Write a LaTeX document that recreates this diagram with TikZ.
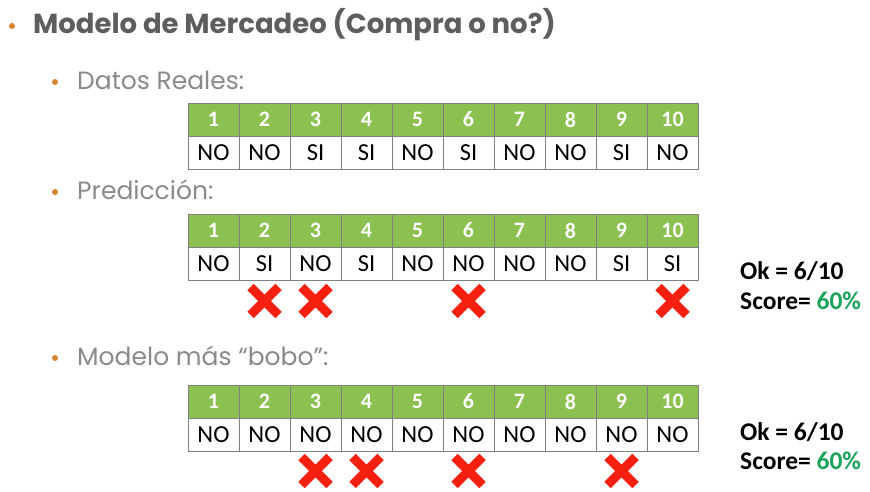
\documentclass[tikz,border=0pt]{standalone}
\usepackage{fontspec}
\setmainfont{Poppins}
\newfontfamily\cellfont{Carlito}
\usetikzlibrary{positioning, shapes.misc}

\definecolor{hdrgreen}{HTML}{8CC152}
\definecolor{gridgray}{HTML}{808080}
\definecolor{titlegray}{HTML}{5E5E5E}
\definecolor{subgray}{HTML}{8A8A8A}
\definecolor{bulletorange}{HTML}{D8862E}
\definecolor{xred}{HTML}{F5200F}
\definecolor{scoregreen}{HTML}{1AA35A}

\begin{document}
\begin{tikzpicture}[x=1pt, y=-1pt, node distance=0pt]

% Styles
\tikzstyle{hdr} = [rectangle, minimum width=51pt, minimum height=33pt, inner sep=0pt, outer sep=0pt, draw=gridgray, fill=hdrgreen, text=white, font=\cellfont\bfseries\fontsize{22}{22}\selectfont]
\tikzstyle{val} = [rectangle, minimum width=51pt, minimum height=33pt, inner sep=0pt, outer sep=0pt, draw=gridgray, fill=white, font=\cellfont\fontsize{24.5}{24.5}\selectfont]
\tikzstyle{wrong} = [cross out, draw=xred, line width=9pt, minimum size=19pt, inner sep=0pt]
\tikzstyle{dot} = [circle, fill=bulletorange, minimum size=6pt, inner sep=0pt]
\tikzstyle{heading} = [anchor=west, inner sep=0pt, text=titlegray, font=\bfseries\fontsize{27.5}{27.5}\selectfont]
\tikzstyle{sub} = [anchor=west, inner sep=0pt, text=subgray, font=\fontsize{25}{25}\selectfont]
\tikzstyle{score} = [anchor=west, inner sep=0pt, font=\cellfont\bfseries\fontsize{25.5}{25.5}\selectfont]

\fill[white] (0,0) rectangle (870,492);
\useasboundingbox (0,0) rectangle (870,492);

% --- Headings ---
\node (b0) [dot] at (12,26) {};
\node (title) [heading] at (33,25) {Modelo de Mercadeo (Compra o no?)};
\node (b1) [dot] at (55,82) {};
\node (real) [sub] at (77,80) {Datos Reales:};
\node (b2) [dot] at (55,192) {};
\node (pred) [sub] at (77,190) {Predicción:};
\node (b3) [dot] at (55,358) {};
\node (dumb) [sub] at (77,356) {Modelo más “bobo”:};

% --- Table 1: real data ---
\node (rh1) [hdr, anchor=north west] at (188,103) {1};
\foreach \i [count=\p] in {2,...,10} \node (rh\i) [hdr, right=of rh\p] {\i};
\foreach \v [count=\i] in {NO,NO,SI,SI,NO,SI,NO,NO,SI,NO} \node (rv\i) [val, below=of rh\i] {\v};

% --- Table 2: prediction ---
\node (ph1) [hdr, anchor=north west] at (188,214) {1};
\foreach \i [count=\p] in {2,...,10} \node (ph\i) [hdr, right=of ph\p] {\i};
\foreach \v [count=\i] in {NO,SI,NO,SI,NO,NO,NO,NO,SI,SI} \node (pv\i) [val, below=of ph\i] {\v};
\foreach \i in {2,3,6,10} \node (px\i) [wrong, below=7pt of pv\i] {};

\node (pok) [score] at (740,271) {Ok = 6/10};
\node (pscore) [score] at (740,301) {Score= \textcolor{scoregreen}{60\%}};

% --- Table 3: dumb model ---
\node (dh1) [hdr, anchor=north west] at (188,385) {1};
\foreach \i [count=\p] in {2,...,10} \node (dh\i) [hdr, right=of dh\p] {\i};
\foreach \i in {1,...,10} \node (dv\i) [val, below=of dh\i] {NO};
\foreach \i in {3,4,6,9} \node (dx\i) [wrong, below=6pt of dv\i] {};

\node (dok) [score] at (740,432) {Ok = 6/10};
\node (dscore) [score] at (740,461) {Score= \textcolor{scoregreen}{60\%}};

\end{tikzpicture}
\end{document}
